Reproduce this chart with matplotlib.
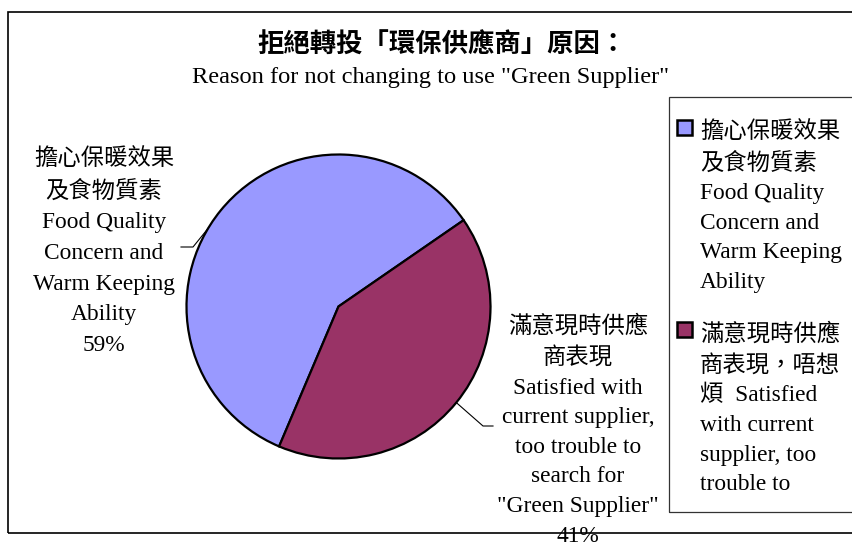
import matplotlib
matplotlib.use("Agg")
import matplotlib.pyplot as plt
import matplotlib.patches as mpatches
import numpy as np

plt.rcParams['font.family'] = ['Liberation Serif', 'Noto Sans CJK TC', 'DejaVu Sans']

# ---- data ----
categories = [
    "擔心保暖效果及食物質素 Food Quality Concern and Warm Keeping Ability",
    "滿意現時供應商表現，唔想煩 Satisfied with current supplier, too trouble to search for \"Green Supplier\"",
]
values = [59, 41]
colors = ["#9999FF", "#993366"]
slice_labels = [
    "擔心保暖效果\n及食物質素\nFood Quality\nConcern and\nWarm Keeping\nAbility\n59%",
    "滿意現時供應\n商表現\nSatisfied with\ncurrent supplier,\ntoo trouble to\nsearch for\n\"Green Supplier\"\n41%",
]
legend_labels = [
    "擔心保暖效果\n及食物質素\nFood Quality\nConcern and\nWarm Keeping\nAbility",
    "滿意現時供應\n商表現，唔想\n煩  Satisfied\nwith current\nsupplier, too\ntrouble to",
]
title_zh = "拒絕轉投「環保供應商」原因："
title_en = "Reason for not changing to use \"Green Supplier\""

W, H = 853, 545
fig = plt.figure(figsize=(W / 100, H / 100), dpi=100)
fig.patch.set_facecolor("white")

def fx(px):
    return px / W

def fy(py):
    return 1 - py / H

FS = 16.8

# outer chart border
fig.patches.append(mpatches.Rectangle((fx(8), fy(533)), 1.2, (533 - 12) / H,
                                      transform=fig.transFigure, fill=False,
                                      edgecolor="black", linewidth=1.2))

# pie axes
cx, cy, R = 338.5, 306.5, 152
ax = fig.add_axes([fx(cx - R), fy(cy + R), 2 * R / W, 2 * R / H])
wedges, _ = ax.pie(values, colors=colors, startangle=247, counterclock=False,
                   radius=1.0, wedgeprops=dict(edgecolor="black", linewidth=1.6))
ax.set_xlim(-1, 1)
ax.set_ylim(-1, 1)
ax.set_aspect("equal")
ax.axis("off")

def dx(px):
    return (px - cx) / R

def dy(py):
    return (cy - py) / R

# slice labels
ax.text(dx(104), dy(252), slice_labels[0], ha="center", va="center",
        fontsize=FS, linespacing=1.61, clip_on=False)
ax.text(dx(578), dy(431), slice_labels[1], ha="center", va="center",
        fontsize=FS, linespacing=1.54, clip_on=False)

# leader lines
a0 = np.deg2rad(149)
ax.plot([np.cos(a0), dx(193), dx(181)], [np.sin(a0), dy(247), dy(247)],
        color="black", linewidth=0.8, clip_on=False)
w = wedges[1]
a1 = np.deg2rad((w.theta1 + w.theta2) / 2)
ax.plot([np.cos(a1), dx(483), dx(493)], [np.sin(a1), dy(426), dy(426)],
        color="black", linewidth=0.8, clip_on=False)

# title
fig.text(fx(442), fy(45), title_zh, ha="center", va="center", fontsize=19,
         fontweight="bold")
fig.text(fx(431), fy(77), title_en, ha="center", va="center", fontsize=17.6)

# legend box
fig.patches.append(mpatches.Rectangle((fx(669), fy(512)), 1.0, (512 - 97) / H,
                                      transform=fig.transFigure, fill=False,
                                      edgecolor="#333333", linewidth=0.9))
leg_tops = [121, 323]
for lab, col, top in zip(legend_labels, colors, leg_tops):
    fig.patches.append(mpatches.Rectangle((fx(677), fy(top + 14)), 15 / W, 15 / H,
                                          transform=fig.transFigure,
                                          facecolor=col, edgecolor="black",
                                          linewidth=1.8))
    fig.text(fx(700), fy(top), lab, ha="left", va="top", fontsize=FS,
             linespacing=1.535)

fig.savefig("out.png", dpi=100)
